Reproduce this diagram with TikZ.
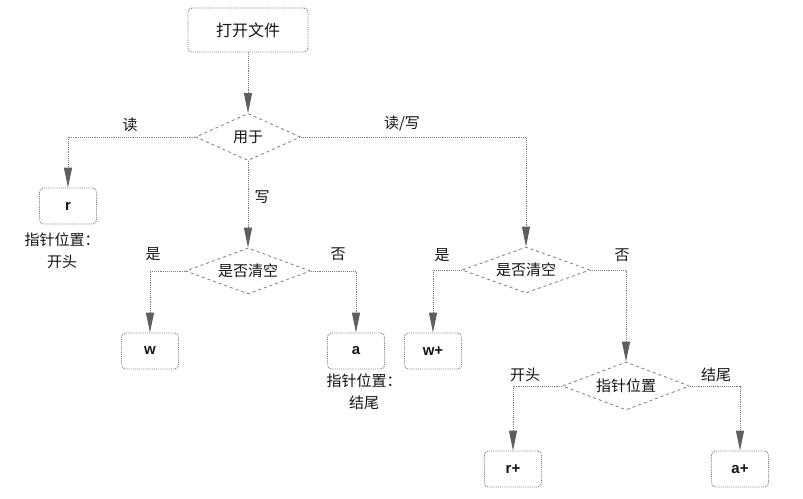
\documentclass[tikz,border=0pt]{standalone}
\usepackage{fontspec}
\newfontfamily\cjk{Noto Sans CJK SC}
\newfontfamily\lat{Liberation Sans}
\usetikzlibrary{shapes.geometric,arrows.meta}
\definecolor{lnc}{RGB}{125,125,125}
\definecolor{arc}{RGB}{95,95,95}
\definecolor{txc}{RGB}{20,20,20}
\begin{document}
\begin{tikzpicture}[x=1pt,y=-1pt,
  box/.style={rectangle,rounded corners=4pt,draw=lnc,densely dotted,line width=0.9pt,minimum width=57pt,minimum height=36pt,inner sep=0pt,text=txc,font=\lat\bfseries\fontsize{15}{17}\selectfont},
  dia/.style={diamond,draw=lnc,dashed,line width=0.8pt,inner sep=0pt,aspect=2.6,text=txc,font=\cjk\fontsize{15}{17}\selectfont},
  lbl/.style={text=txc,font=\cjk\fontsize{15}{17}\selectfont,inner sep=0pt},
  note/.style={text=txc,font=\cjk\fontsize{15}{22}\selectfont,align=center,inner sep=0pt},
  conn/.style={draw=lnc,densely dotted,line width=0.9pt,-{Triangle[length=20pt,width=8pt,fill=arc,color=arc]}}
]
\useasboundingbox (0,0) rectangle (803,498);
\fill[white] (0,0) rectangle (803,498);
% nodes
\node[box,minimum width=120pt,minimum height=44pt,font=\cjk\fontsize{16}{18}\selectfont] (f) at (248,30) {打开文件};
\node[dia,minimum width=105pt,minimum height=47pt] (u) at (248,137) {用于};
\node[box] (r) at (68,206) {r};
\node[note] (rn) at (62,251) {指针位置：\\开头};
\node[dia,minimum width=125pt,minimum height=46pt] (c1) at (248,271) {是否清空};
\node[box] (w) at (150,351) {w};
\node[box] (a) at (356,351) {a};
\node[note] (an) at (364,392) {指针位置：\\结尾};
\node[dia,minimum width=128pt,minimum height=46pt] (c2) at (526,270) {是否清空};
\node[box] (wp) at (433,351) {w+};
\node[dia,minimum width=127pt,minimum height=48pt] (p) at (626,386) {指针位置};
\node[box] (rp) at (513,469) {r+};
\node[box] (ap) at (740,469) {a+};
% labels
\node[lbl] (l1) at (130,125) {读};
\node[lbl] (l2) at (402,124) {读/写};
\node[lbl] (l3) at (262,197) {写};
\node[lbl] (l4) at (153,254) {是};
\node[lbl] (l5) at (338,254) {否};
\node[lbl] (l6) at (442,255) {是};
\node[lbl] (l7) at (622,255) {否};
\node[lbl] (l8) at (525,375) {开头};
\node[lbl] (l9) at (716,375) {结尾};
% connectors
\draw[conn] (f) -- (u.north);
\draw[conn] (u.west) -| (r.north);
\draw[conn] (u.south) -- (c1.north);
\draw[conn] (u.east) -| (c2.north);
\draw[conn] (c1.west) -| (w.north);
\draw[conn] (c1.east) -| (a.north);
\draw[conn] (c2.west) -| (wp.north);
\draw[conn] (c2.east) -| (p.north);
\draw[conn] (p.west) -| (rp.north);
\draw[conn] (p.east) -| (ap.north);
\end{tikzpicture}
\end{document}
